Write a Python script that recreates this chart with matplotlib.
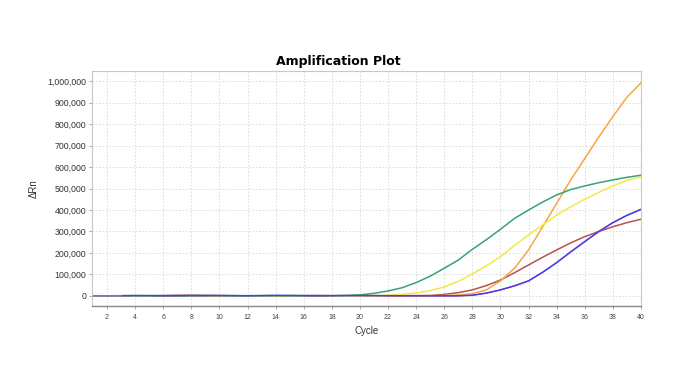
import matplotlib
matplotlib.use("Agg")
import matplotlib.pyplot as plt
from matplotlib.ticker import FuncFormatter, MultipleLocator

plt.rcParams["font.family"] = ["Liberation Sans", "DejaVu Sans"]

# cycles 1..40
cycles = list(range(1, 41))

green = [0, 300, 500, 800, 500, 200, 600, 900, 500, 800,
         500, 200, 600, 900, 800, 400, 300, 600, 2000, 5000,
         12000, 23000, 38000, 62000, 92000, 129000, 167000, 217000, 262000, 310000,
         361000, 400000, 437000, 470000, 495000, 512000, 527000, 540000, 552000, 562000]
yellow = [0, 200, 300, 500, 300, 100, 400, 600, 400, 500,
          300, 100, 500, 700, 600, 300, 200, 400, 500, 700,
          1000, 3000, 7000, 14000, 24000, 42000, 68000, 102000, 140000, 183000,
          235000, 284000, 330000, 377000, 415000, 450000, 482000, 512000, 538000, 555000]
orange = [0, 100, 200, 400, 200, 100, 300, 500, 300, 400,
          200, 100, 400, 500, 400, 200, 100, 300, 300, 400,
          500, 600, 700, 800, 900, 1500, 4000, 10000, 28000, 70000,
          129000, 214000, 322000, 431000, 540000, 640000, 740000, 835000, 925000, 992000]
red = [0, 100, 300, 500, 800, 1500, 2200, 2500, 1800, 1200,
       700, 300, 600, 800, 900, 1200, 1600, 900, 700, 800,
       900, 1000, 1200, 1500, 2000, 7000, 15000, 28000, 48000, 74000,
       108000, 144000, 180000, 214000, 247000, 276000, 300000, 322000, 341000, 357000]
# purple well sits under the blue one once it takes off
purple = [0, 100, 200, 500, 1200, 2000, 2600, 2800, 2300, 1500,
          900, 500, 700, 900, 1100, 1600, 2100, 1300, 800, 600,
          500, 400, 300, 200, 400, 300, 600, 3000, 13000, 28000,
          47000, 70000, 110000, 155000, 205000, 253000, 300000, 341000, 375000, 403000]
blue = [0, 200, 1000, 2000, 1500, 800, 1000, 1500, 1800, 2200,
        1600, 900, 1800, 2500, 2200, 1400, 900, 1500, 1700, 1500,
        1200, 1000, 800, 600, 400, 300, 600, 3000, 13000, 28000,
        47000, 70000, 110000, 155000, 205000, 253000, 300000, 341000, 375000, 403000]
gray_cycles = [1, 2, 3]
gray = [0, 0, 0]

series = [
    (cycles, purple, "#8a2aa8", 0.8),
    (cycles, red, "#b5524f", 1.1),
    (cycles, orange, "#f4a744", 1.1),
    (cycles, yellow, "#f2e84a", 1.1),
    (cycles, green, "#3aa173", 1.1),
    (cycles, blue, "#4b3ee6", 1.1),
    (gray_cycles, gray, "#8c8c8c", 1.1),
]

fig = plt.figure(figsize=(7, 3.78), dpi=100)
ax = fig.add_axes([92 / 700, 1 - 306 / 378, (641 - 92) / 700, (306 - 71) / 378])

for xs, vals, col, lw in series:
    ax.plot(xs, vals, color=col, lw=lw, zorder=2)

ax.set_xlim(0.93, 40)
ax.set_ylim(-47000, 1047000)
ax.xaxis.set_major_locator(MultipleLocator(2))
ax.yaxis.set_major_locator(MultipleLocator(100000))
ax.yaxis.set_major_formatter(FuncFormatter(lambda v, p: f"{int(v):,}"))

ax.grid(True, color="#d8d8d8", ls=(0, (2, 2)), lw=0.6)
ax.set_axisbelow(True)

for s in ["top", "right", "left"]:
    ax.spines[s].set_color("#c8c8c8")
    ax.spines[s].set_linewidth(0.8)
ax.spines["bottom"].set_color("#888888")
ax.spines["bottom"].set_linewidth(1.0)

ax.tick_params(axis="y", labelsize=6.3, colors="#333333", length=2, width=0.6, pad=2)
ax.tick_params(axis="x", labelsize=5, colors="#444444", length=2, width=0.6, pad=4)
ax.tick_params(axis="both", color="#999999")

ax.set_xlabel("Cycle", fontsize=7, color="#333333", labelpad=3)
ax.set_ylabel("ΔRn", fontsize=7, color="#333333", labelpad=6)

fig.text(338 / 700, 1 - 61 / 378, "Amplification Plot", ha="center", va="center",
         fontsize=9, fontweight="bold", color="black", family="DejaVu Sans")

fig.savefig("out.png", dpi=100)
